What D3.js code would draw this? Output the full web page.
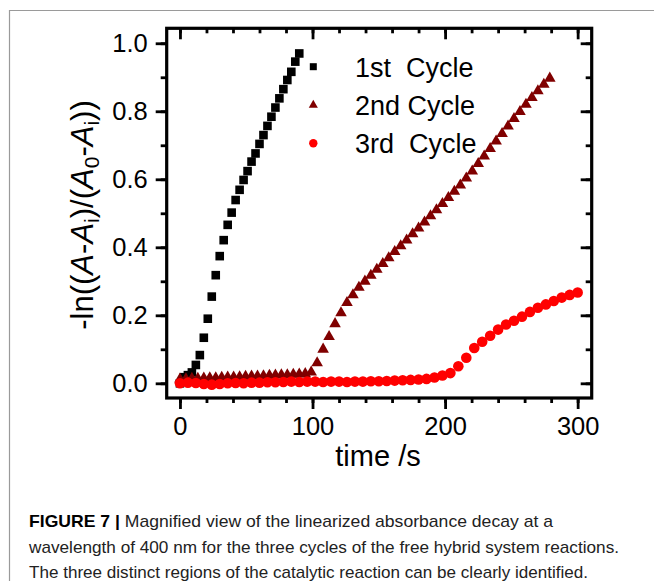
<!DOCTYPE html>
<html>
<head>
<meta charset="utf-8">
<script src="https://cdn.jsdelivr.net/npm/d3@7"></script>
<style>
  body { margin: 0; background: #fff; }
  svg { display: block; font-family: "Liberation Sans", Arial, sans-serif; }
  .tick text { font-family: "Liberation Sans", Arial, sans-serif; }
</style>
</head>
<body>
<svg id="chart" width="654" height="581"></svg>
<script>
// data
var cycle1Time = [0, 3, 6, 9, 12, 15, 18, 21, 24, 27, 30, 33, 36, 39, 42, 45, 48, 51, 54, 57, 60,
    63, 66, 69, 72, 75, 78, 81, 84, 87, 90];
var cycle1Value = [0.0, 0.018, 0.024, 0.032, 0.054, 0.083, 0.134, 0.19, 0.255, 0.318, 0.374, 0.421,
    0.466, 0.502, 0.539, 0.569, 0.598, 0.624, 0.652, 0.676, 0.704, 0.73, 0.757, 0.784, 0.811,
    0.838, 0.865, 0.892, 0.916, 0.946, 0.97];

var cycle2Time = [0, 4.5, 9, 13.5, 18, 22.5, 27, 31.5, 36, 40.5, 45, 49.5, 54, 58.5, 63, 67.5, 72,
    76.5, 81, 85.5, 90, 94.5, 99, 103.5, 108, 112.5, 117, 121.5, 126, 130.5, 135, 139.5, 144,
    148.5, 153, 157.5, 162, 166.5, 171, 175.5, 180, 184.5, 189, 193.5, 198, 202.5, 207, 211.5,
    216, 220.5, 225, 229.5, 234, 238.5, 243, 247.5, 252, 256.5, 261, 265.5, 270, 274.5, 279];
var cycle2Value = [0.012, 0.013, 0.014, 0.014, 0.015, 0.016, 0.016, 0.017, 0.018, 0.018, 0.019,
    0.02, 0.021, 0.021, 0.022, 0.023, 0.024, 0.025, 0.025, 0.026, 0.027, 0.028, 0.033, 0.06,
    0.1, 0.137, 0.175, 0.207, 0.237, 0.26, 0.282, 0.3, 0.317, 0.335, 0.352, 0.369, 0.387, 0.404,
    0.421, 0.439, 0.456, 0.474, 0.492, 0.51, 0.528, 0.546, 0.564, 0.583, 0.603, 0.624, 0.646,
    0.668, 0.69, 0.712, 0.734, 0.756, 0.778, 0.799, 0.82, 0.84, 0.86, 0.879, 0.897];

var cycle3Time = [0, 6, 12, 18, 24, 30, 36, 42, 48, 54, 60, 66, 72, 78, 84, 90, 96, 102, 108, 114,
    120, 126, 132, 138, 144, 150, 156, 162, 168, 174, 180, 186, 192, 198, 204, 210, 216, 222,
    228, 234, 240, 246, 252, 258, 264, 270, 276, 282, 288, 294, 300];
var cycle3Value = [0.0, 0.002, 0.001, -0.002, -0.004, -0.002, 0.0, 0.001, 0.0, 0.002, 0.002, 0.003,
    0.003, 0.004, 0.005, 0.004, 0.005, 0.005, 0.004, 0.005, 0.005, 0.004, 0.005, 0.005, 0.006,
    0.006, 0.007, 0.008, 0.009, 0.01, 0.011, 0.013, 0.017, 0.023, 0.03, 0.05, 0.075, 0.104,
    0.122, 0.14, 0.158, 0.173, 0.184, 0.196, 0.21, 0.222, 0.232, 0.242, 0.252, 0.26, 0.267];

var seriesNames = ["1st  Cycle", "2nd Cycle", "3rd  Cycle"];
var xTicks = [0, 100, 200, 300];
var yTicks = [0, 0.2, 0.4, 0.6, 0.8, 1.0];

var svg = d3.select("#chart");
var margin = { top: 28.3, left: 166.7, right: 62.3, bottom: 183 };
var width = 654 - margin.left - margin.right;
var height = 581 - margin.top - margin.bottom;

// card border (top and left edge only are visible)
svg.append("path")
    .attr("d", "M9.5,581V10.5H654")
    .attr("fill", "none")
    .attr("stroke", "#9a9a9a")
    .attr("stroke-width", 1.2);

var x = d3.scaleLinear().domain([-10, 310.6]).range([0, width]);
var y = d3.scaleLinear().domain([-0.0432, 1.044]).range([height, 0]);

var g = svg.append("g").attr("transform", `translate(${margin.left},${margin.top})`);

var xMinor = d3.range(0, 301, 20);
var yMinor = d3.range(0, 11).map((d) => d / 10);

function styleAxis(sel) {
    sel.select(".domain").remove();
    sel.selectAll(".tick line").attr("stroke", "#000").attr("stroke-width", 2.8);
    sel.selectAll(".tick text").attr("font-size", 25.5).attr("fill", "#000");
}

// minor ticks first
g.append("g").attr("transform", `translate(0,${height})`)
    .call(d3.axisBottom(x).tickValues(xMinor).tickSize(5).tickFormat(""))
    .call(styleAxis);
g.append("g")
    .call(d3.axisTop(x).tickValues(xMinor).tickSize(-5).tickFormat(""))
    .call(styleAxis);
g.append("g")
    .call(d3.axisLeft(y).tickValues(yMinor).tickSize(6).tickFormat(""))
    .call(styleAxis);
g.append("g").attr("transform", `translate(${width},0)`)
    .call(d3.axisRight(y).tickValues(yMinor).tickSize(-6).tickFormat(""))
    .call(styleAxis);

// major ticks
g.append("g").attr("transform", `translate(0,${height})`)
    .call(d3.axisBottom(x).tickValues(xTicks).tickSize(11).tickPadding(7).tickFormat(d3.format("d")))
    .call(styleAxis)
    .selectAll(".tick text").attr("dy", "0.75em");
g.append("g")
    .call(d3.axisTop(x).tickValues(xTicks).tickSize(-11).tickFormat(""))
    .call(styleAxis);
g.append("g")
    .call(d3.axisLeft(y).tickValues(yTicks).tickSize(11).tickPadding(8).tickFormat(d3.format(".1f")))
    .call(styleAxis);
g.append("g").attr("transform", `translate(${width},0)`)
    .call(d3.axisRight(y).tickValues(yTicks).tickSize(-11).tickFormat(""))
    .call(styleAxis);

// plot frame
g.append("rect")
    .attr("width", width).attr("height", height)
    .attr("fill", "none").attr("stroke", "#000").attr("stroke-width", 3.2);

// series
var sq = 8.6;
g.append("g").selectAll("rect")
    .data(cycle1Time.map((t, i) => [t, cycle1Value[i]]))
    .enter().append("rect")
    .attr("x", (d) => x(d[0]) - sq / 2)
    .attr("y", (d) => y(d[1]) - sq / 2)
    .attr("width", sq).attr("height", sq)
    .attr("fill", "#000");

var tri = d3.symbol().type(d3.symbolTriangle).size(58);
g.append("g").selectAll("path")
    .data(cycle2Time.map((t, i) => [t, cycle2Value[i]]))
    .enter().append("path")
    .attr("d", tri)
    .attr("transform", (d) => `translate(${x(d[0])},${y(d[1])})`)
    .attr("fill", "#800000");

g.append("g").selectAll("circle")
    .data(cycle3Time.map((t, i) => [t, cycle3Value[i]]))
    .enter().append("circle")
    .attr("cx", (d) => x(d[0]))
    .attr("cy", (d) => y(d[1]))
    .attr("r", 5.3)
    .attr("fill", "#ff0000");

// legend
var legend = svg.append("g").attr("transform", "translate(313.3,66.7)");
var legendGap = 38.3;
legend.append("rect").attr("x", -3.5).attr("y", -3.5).attr("width", 7).attr("height", 7)
    .attr("fill", "#000");
legend.append("path").attr("d", d3.symbol().type(d3.symbolTriangle).size(36))
    .attr("transform", `translate(0,${legendGap})`).attr("fill", "#800000");
legend.append("circle").attr("cy", legendGap * 2).attr("r", 4.2).attr("fill", "#ff0000");
legend.selectAll("text")
    .data(seriesNames)
    .enter().append("text")
    .attr("x", 41.7)
    .attr("y", (d, i) => i * legendGap + 10)
    .attr("font-size", 27)
    .style("white-space", "pre")
    .text((d) => d);

// axis titles
svg.append("text")
    .attr("x", 378).attr("y", 466)
    .attr("text-anchor", "middle")
    .attr("font-size", 29)
    .text("time /s");

var yt = svg.append("text")
    .attr("transform", "translate(93,215) rotate(-90)")
    .attr("text-anchor", "middle")
    .attr("font-size", 31);
yt.append("tspan").text("-ln((");
yt.append("tspan").attr("font-style", "italic").text("A");
yt.append("tspan").text("-");
yt.append("tspan").attr("font-style", "italic").text("A");
yt.append("tspan").attr("font-size", 21).attr("dy", 6).text("i");
yt.append("tspan").attr("dy", -6).text(")/(");
yt.append("tspan").attr("font-style", "italic").text("A");
yt.append("tspan").attr("font-size", 21).attr("dy", 6).text("0");
yt.append("tspan").attr("dy", -6).text("-");
yt.append("tspan").attr("font-style", "italic").text("A");
yt.append("tspan").attr("font-size", 21).attr("dy", 6).text("i");
yt.append("tspan").attr("dy", -6).text("))");

// caption
var captionLines = [
    "Magnified view of the linearized absorbance decay at a",
    "wavelength of 400 nm for the three cycles of the free hybrid system reactions.",
    "The three distinct regions of the catalytic reaction can be clearly identified."
];
var captionWidths = [524, 590, 559];
var cap = svg.append("g").attr("font-size", 17).attr("fill", "#222");
captionLines.forEach((line, i) => {
    var t = cap.append("text")
        .attr("x", 29).attr("y", 527 + i * 25.5)
        .attr("textLength", captionWidths[i])
        .attr("lengthAdjust", "spacingAndGlyphs");
    if (i === 0) {
        t.append("tspan").attr("font-weight", "bold").attr("fill", "#000").text("FIGURE 7 | ");
    }
    t.append("tspan").text(line);
});
</script>
</body>
</html>
